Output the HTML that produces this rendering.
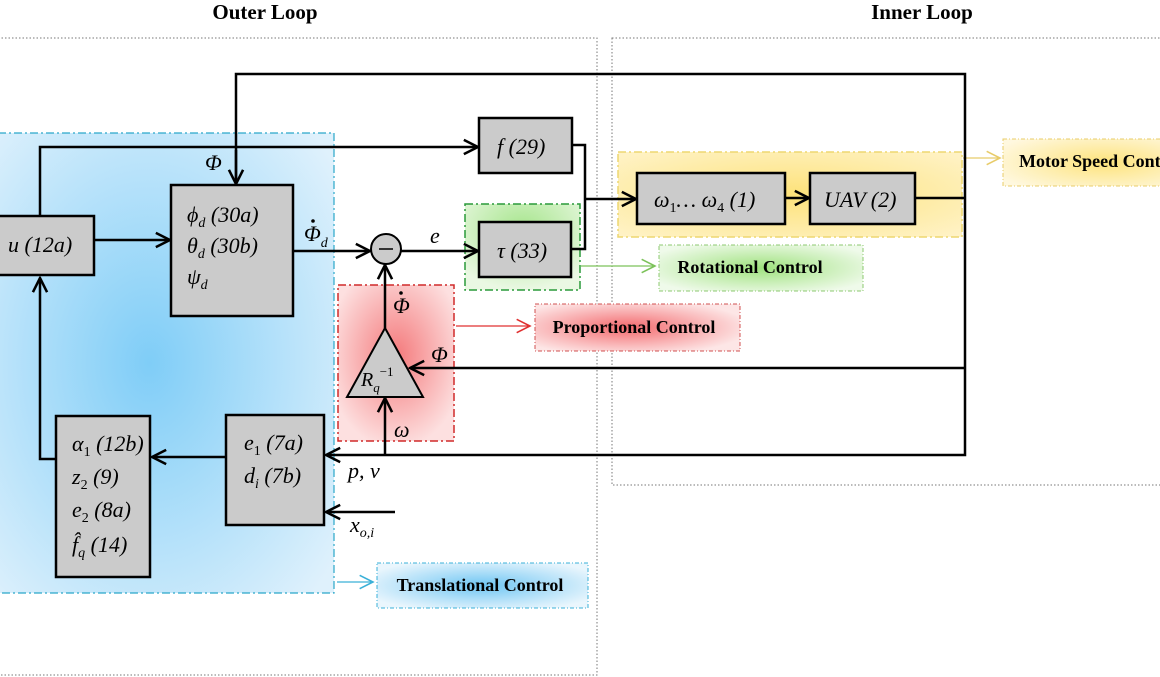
<!DOCTYPE html>
<html><head><style>body{margin:0;background:#fff}svg{display:block}
text{font-family:"Liberation Serif",serif}</style></head><body>
<svg width="1160" height="677" viewBox="0 0 1160 677" xmlns="http://www.w3.org/2000/svg">
<defs>
<radialGradient id="gb" cx="0.45" cy="0.5" r="0.7"><stop offset="0" stop-color="#7fcdf7"/><stop offset="1" stop-color="#dff1fc"/></radialGradient>
<radialGradient id="gr" cx="0.5" cy="0.45" r="0.6"><stop offset="0" stop-color="#f47a7c"/><stop offset="1" stop-color="#fde0e0"/></radialGradient>
<radialGradient id="gg" cx="0.5" cy="0.3" r="0.7"><stop offset="0" stop-color="#a6e58c"/><stop offset="1" stop-color="#eaf8e3"/></radialGradient>
<radialGradient id="gy" cx="0.5" cy="0.5" r="0.7"><stop offset="0" stop-color="#fde27a"/><stop offset="1" stop-color="#fff3c8"/></radialGradient>
<radialGradient id="lb" cx="0.5" cy="0.5" r="0.6"><stop offset="0" stop-color="#6fc6f3"/><stop offset="1" stop-color="#eaf6fd"/></radialGradient>
<radialGradient id="lr" cx="0.45" cy="0.5" r="0.6"><stop offset="0" stop-color="#f36a6e"/><stop offset="1" stop-color="#fde6e6"/></radialGradient>
<radialGradient id="lg" cx="0.5" cy="0.5" r="0.6"><stop offset="0" stop-color="#9fe27e"/><stop offset="1" stop-color="#effaea"/></radialGradient>
<radialGradient id="ly" cx="0.6" cy="0.5" r="0.7"><stop offset="0" stop-color="#fde37c"/><stop offset="1" stop-color="#fff8df"/></radialGradient>
<marker id="a" viewBox="0 0 12 12" refX="11" refY="6" markerWidth="17" markerHeight="17" markerUnits="userSpaceOnUse" orient="auto"><path d="M1 1 L11 6 L1 11" fill="none" stroke="#000" stroke-width="1.8"/></marker>
<marker id="ac" viewBox="0 0 12 12" refX="11" refY="6" markerWidth="16" markerHeight="16" markerUnits="userSpaceOnUse" orient="auto"><path d="M1 1 L11 6 L1 11" fill="none" stroke="#3ab0d8" stroke-width="1.2"/></marker>
<marker id="ar" viewBox="0 0 12 12" refX="11" refY="6" markerWidth="16" markerHeight="16" markerUnits="userSpaceOnUse" orient="auto"><path d="M1 1 L11 6 L1 11" fill="none" stroke="#e03030" stroke-width="1.2"/></marker>
<marker id="ag" viewBox="0 0 12 12" refX="11" refY="6" markerWidth="16" markerHeight="16" markerUnits="userSpaceOnUse" orient="auto"><path d="M1 1 L11 6 L1 11" fill="none" stroke="#7cc25a" stroke-width="1.2"/></marker>
<marker id="ay" viewBox="0 0 12 12" refX="11" refY="6" markerWidth="16" markerHeight="16" markerUnits="userSpaceOnUse" orient="auto"><path d="M1 1 L11 6 L1 11" fill="none" stroke="#e8cc6a" stroke-width="1.2"/></marker>
</defs>
<text x="265" y="19" font-size="21" font-weight="bold" text-anchor="middle">Outer Loop</text>
<text x="922" y="19" font-size="21" font-weight="bold" text-anchor="middle">Inner Loop</text>
<rect x="-2" y="38" width="599" height="637" fill="none" stroke="#777" stroke-dasharray="1.5,2"/>
<rect x="612" y="38" width="560" height="447" fill="none" stroke="#777" stroke-dasharray="1.5,2"/>
<!-- regions -->
<rect x="-2" y="133" width="336" height="460" fill="url(#gb)" stroke="#2aa7c9" stroke-width="1.2" stroke-dasharray="8,3,2,3"/>
<rect x="338" y="285" width="116" height="156" fill="url(#gr)" stroke="#d02a2a" stroke-width="1.5" stroke-dasharray="8,3,2,3"/>
<rect x="465" y="204" width="115" height="86" fill="url(#gg)" stroke="#2a9a3a" stroke-width="1.5" stroke-dasharray="8,3,2,3"/>
<rect x="618" y="152" width="344" height="85" fill="url(#gy)" stroke="#eed770" stroke-width="1.5" stroke-dasharray="8,3,2,3"/>
<!-- legends -->
<rect x="377" y="563" width="211" height="45" fill="url(#lb)" stroke="#3ab0d8" stroke-dasharray="4,2,1,2"/>
<text x="480" y="591" font-size="18" font-weight="bold" text-anchor="middle">Translational Control</text>
<rect x="535" y="304" width="205" height="47" fill="url(#lr)" stroke="#d05050" stroke-dasharray="4,2,1,2"/>
<text x="634" y="333" font-size="18" font-weight="bold" text-anchor="middle">Proportional Control</text>
<rect x="659" y="245" width="204" height="46" fill="url(#lg)" stroke="#8cc870" stroke-dasharray="4,2,1,2"/>
<text x="750" y="273" font-size="18" font-weight="bold" text-anchor="middle">Rotational Control</text>
<rect x="1003" y="139" width="170" height="47" fill="url(#ly)" stroke="#e8cc6a" stroke-dasharray="4,2,1,2"/>
<text x="1019" y="167" font-size="18" font-weight="bold">Motor Speed Control</text>
<line x1="337" y1="582" x2="373" y2="582" stroke="#3ab0d8" stroke-width="1.3" marker-end="url(#ac)"/>
<line x1="456" y1="326" x2="530" y2="326" stroke="#e03030" stroke-width="1.3" marker-end="url(#ar)"/>
<line x1="581" y1="266" x2="655" y2="266" stroke="#7cc25a" stroke-width="1.3" marker-end="url(#ag)"/>
<line x1="963" y1="158" x2="1000" y2="158" stroke="#e8cc6a" stroke-width="1.3" marker-end="url(#ay)"/>
<!-- boxes -->
<g fill="#cbcbcb" stroke="#000" stroke-width="2.5">
<rect x="-5" y="216" width="99" height="59"/>
<rect x="171" y="185" width="122" height="131"/>
<rect x="479" y="118" width="93" height="55"/>
<rect x="479" y="222" width="92" height="55"/>
<rect x="226" y="415" width="98" height="110"/>
<rect x="56" y="416" width="94" height="161"/>
<rect x="637" y="173" width="148" height="51"/>
<rect x="810" y="173" width="105" height="51"/>
<circle cx="386" cy="249" r="15" stroke-width="2"/>
<path d="M385 328 L423 397 L347 397 Z" stroke-width="2"/>
</g>
<line x1="379" y1="249" x2="393" y2="249" stroke="#000" stroke-width="1.5"/>
<!-- wires -->
<g fill="none" stroke="#000" stroke-width="2.5">
<path d="M236 185 L236 74 L965 74 L965 455 L326 455" marker-end="url(#a)"/>
<line x1="236" y1="150" x2="236" y2="184" marker-end="url(#a)"/>
<line x1="965" y1="368" x2="410" y2="368" marker-end="url(#a)"/>
<line x1="915" y1="198" x2="965" y2="198"/>
<path d="M40 216 L40 147 L478 147" marker-end="url(#a)"/>
<line x1="94" y1="240" x2="170" y2="240" marker-end="url(#a)"/>
<line x1="293" y1="251" x2="370" y2="251" marker-end="url(#a)"/>
<line x1="401" y1="251" x2="478" y2="251" marker-end="url(#a)"/>
<line x1="385" y1="328" x2="385" y2="265" marker-end="url(#a)"/>
<line x1="385" y1="455" x2="385" y2="398" marker-end="url(#a)"/>
<line x1="395" y1="512" x2="326" y2="512" marker-end="url(#a)"/>
<line x1="226" y1="457" x2="152" y2="457" marker-end="url(#a)"/>
<path d="M56 459 L40 459 L40 278" marker-end="url(#a)"/>
<path d="M572 145 L585 145 L585 249 L571 249"/>
<line x1="585" y1="199" x2="636" y2="199" marker-end="url(#a)"/>
<line x1="785" y1="198" x2="809" y2="198" marker-end="url(#a)"/>
</g>
<!-- labels -->
<g font-size="22" font-style="italic">
<text x="8" y="252">u (12a)</text>
<text x="187" y="222">ϕ<tspan font-size="14" dy="5">d</tspan><tspan dy="-5"> (30a)</tspan></text>
<text x="187" y="253">θ<tspan font-size="14" dy="5">d</tspan><tspan dy="-5"> (30b)</tspan></text>
<text x="187" y="284">ψ<tspan font-size="14" dy="5">d</tspan></text>
<text x="497" y="154">f (29)</text>
<text x="497" y="258">τ (33)</text>
<text x="244" y="450">e<tspan font-size="14" dy="5" font-style="normal">1</tspan><tspan dy="-5"> (7a)</tspan></text>
<text x="244" y="483">d<tspan font-size="14" dy="5">i</tspan><tspan dy="-5"> (7b)</tspan></text>
<text x="72" y="451">α<tspan font-size="14" dy="5" font-style="normal">1</tspan><tspan dy="-5"> (12b)</tspan></text>
<text x="72" y="484">z<tspan font-size="14" dy="5" font-style="normal">2</tspan><tspan dy="-5"> (9)</tspan></text>
<text x="72" y="517">e<tspan font-size="14" dy="5" font-style="normal">2</tspan><tspan dy="-5"> (8a)</tspan></text>
<text x="72" y="552">f̂<tspan font-size="14" dy="5">q</tspan><tspan dy="-5"> (14)</tspan></text>
<text x="654" y="207">ω<tspan font-size="14" dy="5" font-style="normal">1</tspan><tspan dy="-5">… ω</tspan><tspan font-size="14" dy="5" font-style="normal">4</tspan><tspan dy="-5"> (1)</tspan></text>
<text x="824" y="207">UAV (2)</text>
<text x="361" y="386" font-size="20">R<tspan font-size="13" dy="6">q</tspan><tspan font-size="13" dy="-16" font-style="normal">−1</tspan></text>
<text x="205" y="170">Φ</text>
<text x="304" y="241">Φ<tspan font-size="14" dy="6">d</tspan></text>
<text x="430" y="243">e</text>
<text x="393" y="313">Φ</text>
<text x="431" y="362">Φ</text>
<text x="394" y="437">ω</text>
<text x="348" y="478">p, v</text>
<text x="350" y="532">x<tspan font-size="14" dy="5">o,i</tspan></text>
</g>
<circle cx="313" cy="221" r="1.8" fill="#000"/>
<circle cx="401" cy="293" r="1.8" fill="#000"/>
</svg>
</body></html>
